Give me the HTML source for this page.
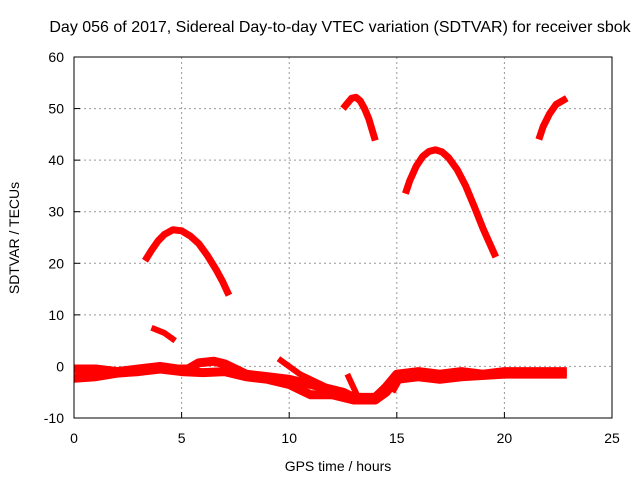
<!DOCTYPE html>
<html><head><meta charset="utf-8"><style>
body{margin:0;background:#fff}
svg{display:block;font-family:"Liberation Sans",sans-serif}
</style></head><body>
<svg id="c" width="640" height="480">
<text x="340" y="32" text-anchor="middle" font-size="16">Day 056 of 2017, Sidereal Day-to-day VTEC variation (SDTVAR) for receiver sbok</text>
<text x="338" y="471" text-anchor="middle" font-size="14">GPS time / hours</text>
<text transform="translate(19,238) rotate(-90)" text-anchor="middle" font-size="14">SDTVAR / TECUs</text>
<g id="grid"></g><g id="marks"></g>
<rect x="74" y="57" width="538" height="361" fill="none" stroke="#000" stroke-width="1"/>
</svg>
<script>
const xTicks=[0,5,10,15,20,25];
const yTicks=[-10,0,10,20,30,40,50,60];
const segA=[[3.3,20.5],[3.6,22.5],[3.9,24.3],[4.2,25.6],[4.6,26.5],[5,26.3],[5.4,25.3],[5.8,23.8],[6.2,21.5],[6.6,18.8],[6.9,16.5],[7.2,13.8]];
const segB=[[12.5,50],[12.7,51],[12.9,52],[13.1,52.2],[13.3,51.5],[13.5,50],[13.7,48],[14.0,43.8]];
const segC=[[15.4,33.5],[15.6,36],[15.9,38.8],[16.2,40.7],[16.5,41.7],[16.8,42],[17.1,41.6],[17.4,40.5],[17.8,38.2],[18.2,35],[18.6,31],[19,26.8],[19.3,24],[19.6,21.2]];
const segD=[[21.6,44],[21.8,46.5],[22.1,49],[22.4,50.8],[22.9,52]];
const segE=[[3.6,7.5],[4.2,6.5],[4.7,5]];
const band1=[[0,-0.5],[1,-0.5],[2,-1],[3,-0.5],[4,0],[4.8,-0.5],[5.3,-0.5],[5.8,0.7],[6.5,1],[7,0.5],[8,-1.5],[9,-2],[10,-2.5],[11,-3.5],[12,-4.5],[12.5,-5],[13,-6],[14,-6],[14.5,-4],[15,-1.5],[16,-1],[17,-1.5],[18,-1],[19,-1.5],[20,-1],[21,-1],[22,-1],[22.9,-1]];
const band2=[[0,-2.3],[1,-2],[2,-1.3],[3,-1],[4,-0.5],[5,-1],[6,-1.2],[7,-1],[8,-2],[9,-2.5],[10,-3.5],[10.5,-4.5],[11,-5.5],[12,-5.5],[13,-6.5],[14,-6.5],[14.5,-5],[15,-2.5],[16,-2],[17,-2.5],[18,-2],[20,-1.5],[22,-1.5],[22.9,-1.5]];
const branch1=[[9.5,1.5],[10.5,-1.5],[11.5,-3.5],[12.5,-5.5],[13,-6]];
const branch2=[[12.7,-1.5],[13.2,-6]];
const branch3=[[14.8,-5],[15.2,-2]];
const series=[segA,segB,segC,segD,segE,band1,band2,branch1,branch2,branch3];
const widths=[7,7,7,7,6,9,9,6,6,6];
const names=['arc-a','arc-b','arc-c','arc-d','arc-e','band-upper','band-lower','branch-1','branch-2','branch-3'];
const X=h=>74+h*538/25, Y=v=>57+(60-v)*361/70;
const NS='http://www.w3.org/2000/svg';
const g=document.getElementById('grid'), m=document.getElementById('marks');
xTicks.forEach(t=>{
 if(t>0&&t<25){const l=document.createElementNS(NS,'line');l.setAttribute('x1',X(t));l.setAttribute('x2',X(t));l.setAttribute('y1',57);l.setAttribute('y2',418);l.setAttribute('stroke','#999');l.setAttribute('stroke-dasharray','2,3');
 
 g.appendChild(l);}
 const k=document.createElementNS(NS,'line');k.setAttribute('x1',X(t));k.setAttribute('x2',X(t));k.setAttribute('y1',418);k.setAttribute('y2',412);k.setAttribute('stroke','#000');g.appendChild(k);
 const tx=document.createElementNS(NS,'text');tx.setAttribute('x',X(t));tx.setAttribute('y',443);tx.setAttribute('text-anchor','middle');tx.setAttribute('font-size','14');tx.textContent=t;
 
 g.appendChild(tx);
});
yTicks.forEach(t=>{
 if(t>-10&&t<60){const l=document.createElementNS(NS,'line');l.setAttribute('x1',74);l.setAttribute('x2',612);l.setAttribute('y1',Y(t));l.setAttribute('y2',Y(t));l.setAttribute('stroke','#999');l.setAttribute('stroke-dasharray','2,3');
 
 g.appendChild(l);}
 const k=document.createElementNS(NS,'line');k.setAttribute('x1',74);k.setAttribute('x2',80);k.setAttribute('y1',Y(t));k.setAttribute('y2',Y(t));k.setAttribute('stroke','#000');g.appendChild(k);
 const tx=document.createElementNS(NS,'text');tx.setAttribute('x',64);tx.setAttribute('y',Y(t)+5);tx.setAttribute('text-anchor','end');tx.setAttribute('font-size','14');tx.textContent=t;
 
 g.appendChild(tx);
});
series.forEach((s,i)=>{
 const p=document.createElementNS(NS,'polyline');
 p.setAttribute('points',s.map(d=>X(d[0])+','+Y(d[1])).join(' '));
 p.setAttribute('fill','none');p.setAttribute('stroke','#f00');p.setAttribute('stroke-width',widths[i]);p.setAttribute('stroke-linejoin','round');
 
 
 m.appendChild(p);
});
</script>
</body></html>
